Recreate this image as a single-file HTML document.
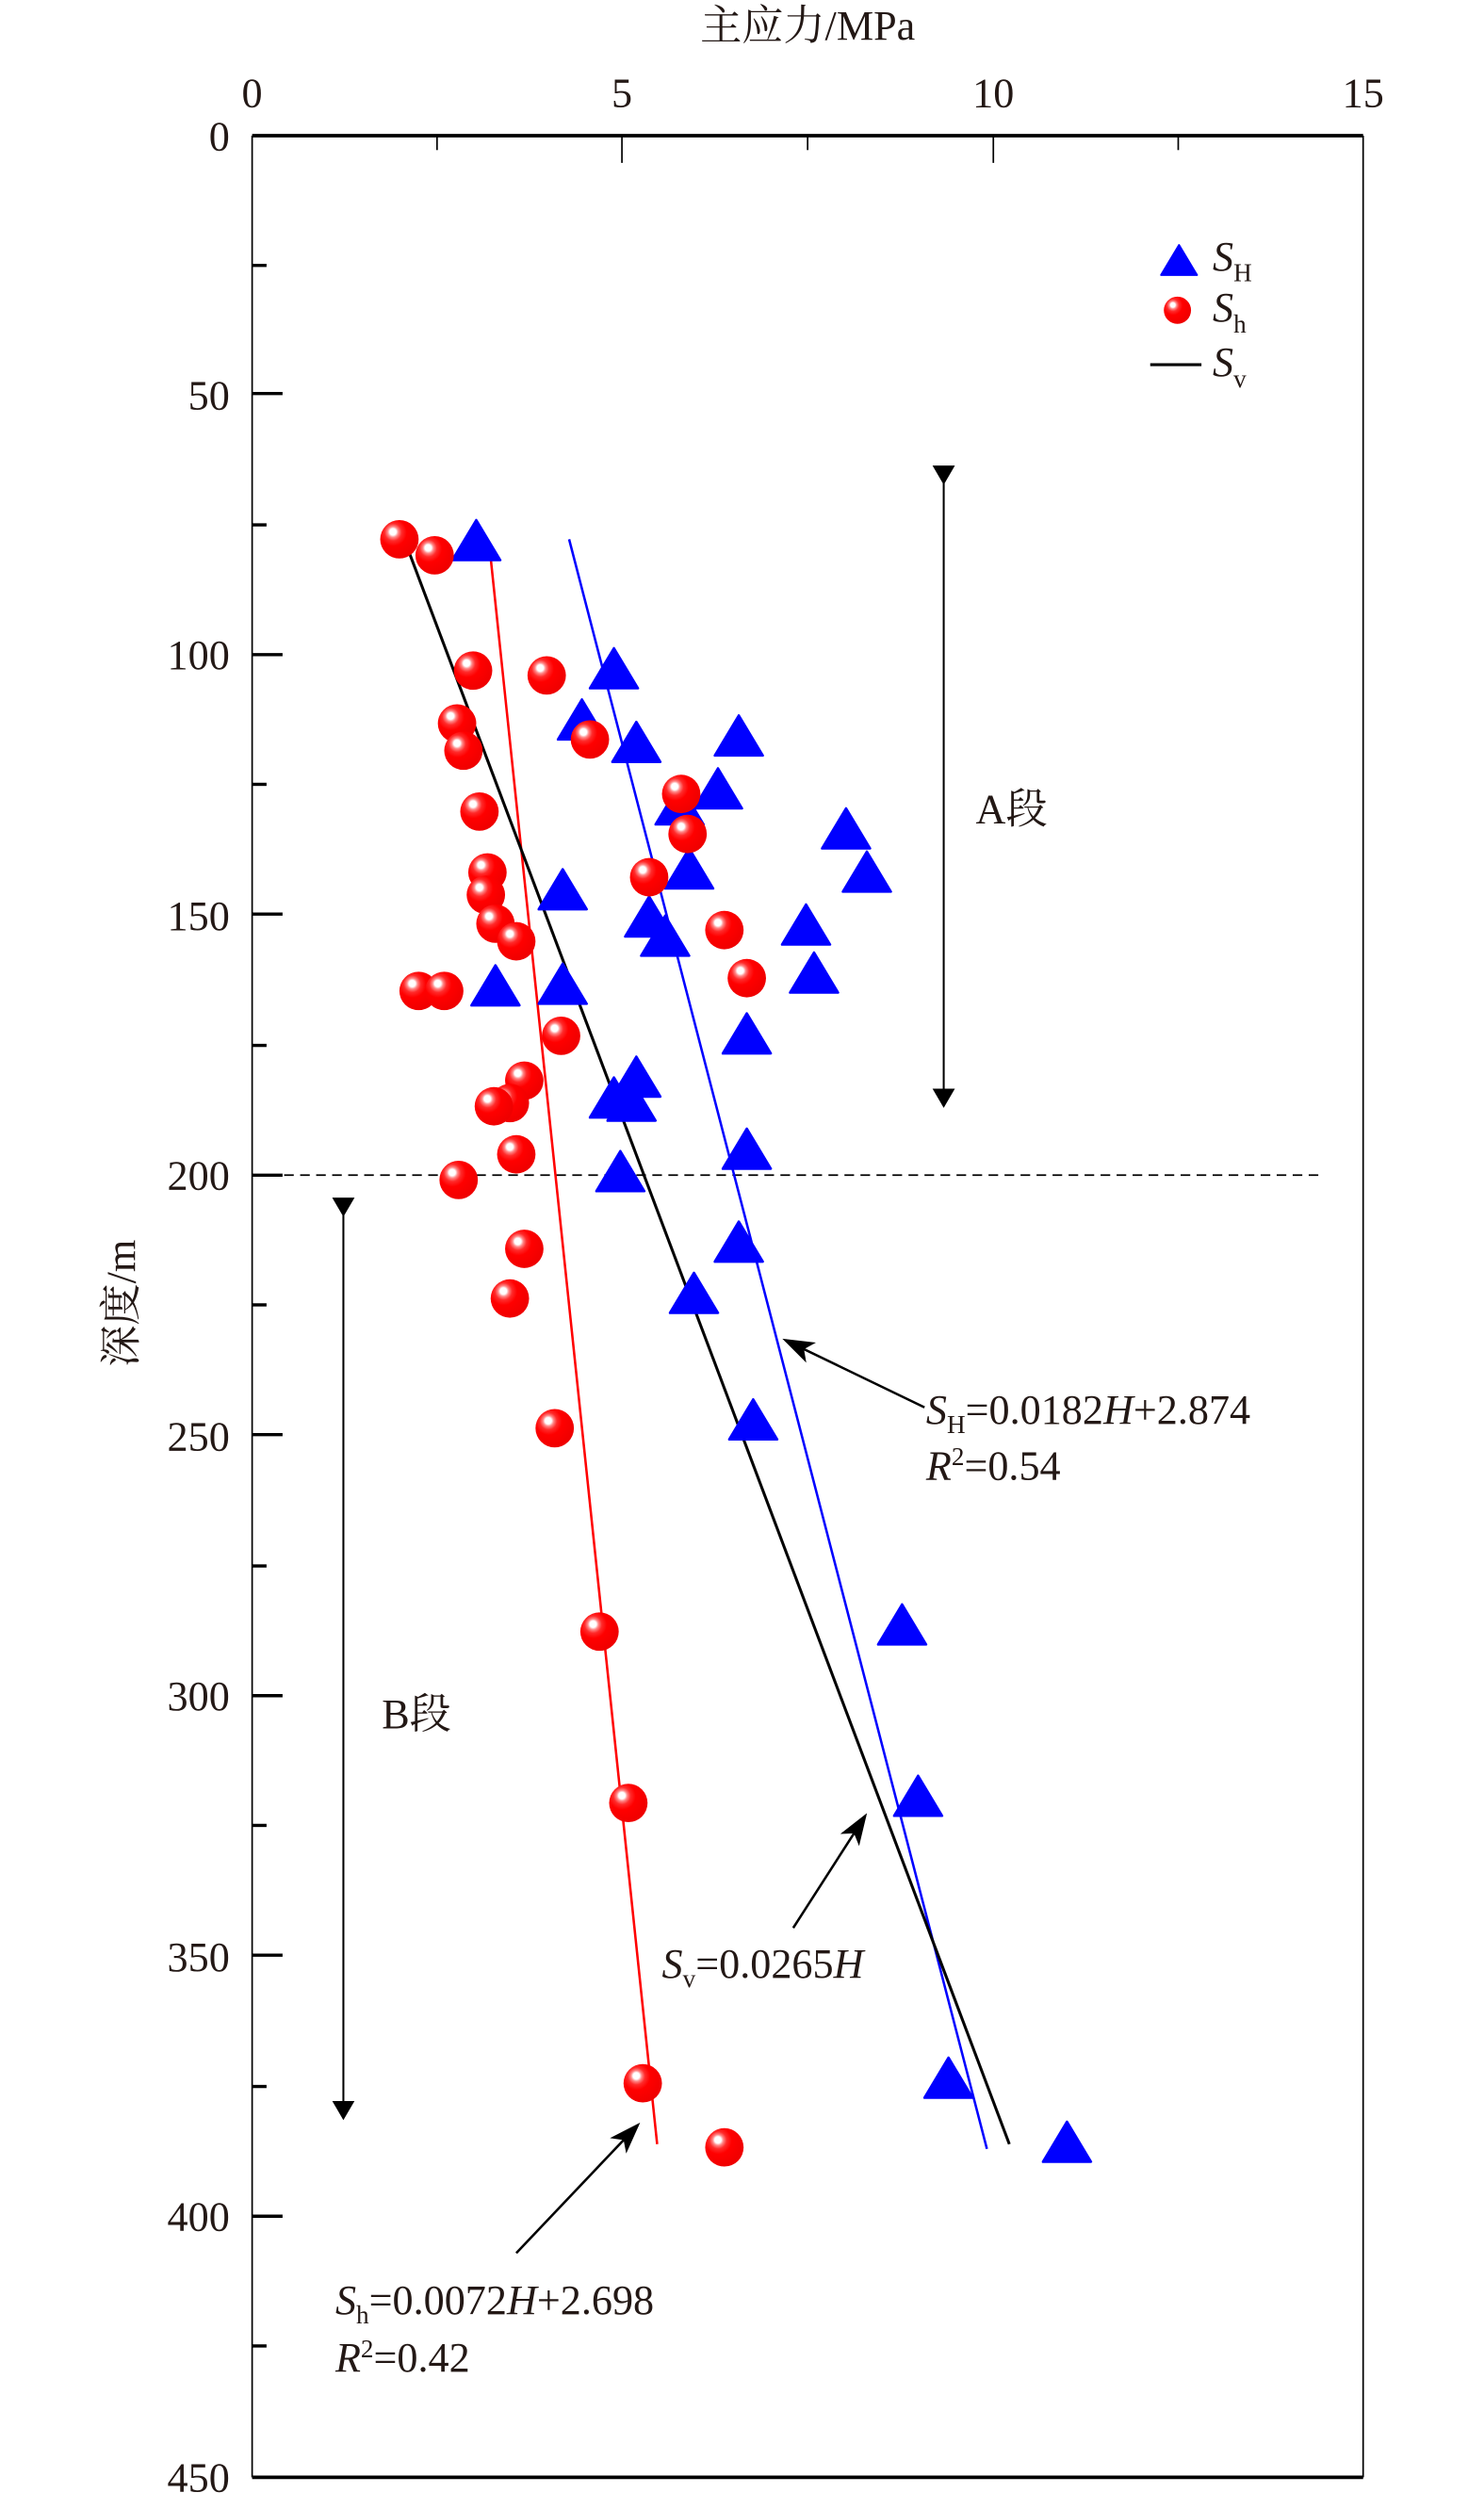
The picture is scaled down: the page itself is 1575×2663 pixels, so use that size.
<!DOCTYPE html>
<html><head><meta charset="utf-8"><style>
html,body{margin:0;padding:0;background:#fff}
svg{display:block}
text{font-family:"Liberation Serif","Noto Serif CJK SC",serif;fill:#231815}
</style></head><body>
<svg width="1575" height="2663" viewBox="-0.5 1.3 927 1566.5" preserveAspectRatio="none" xmlns="http://www.w3.org/2000/svg">
<defs>
<radialGradient id="g" cx="0.35" cy="0.35" r="0.7" fx="0.33" fy="0.3">
<stop offset="0" stop-color="#fff"/><stop offset="0.12" stop-color="#fff"/><stop offset="0.2" stop-color="#f88"/><stop offset="0.32" stop-color="#ff2a2a"/><stop offset="0.5" stop-color="#f00"/><stop offset="1" stop-color="#e00"/>
</radialGradient>
<symbol id="t" viewBox="-15 -14 30 26" overflow="visible"><polygon points="0,-14 15,11 -15,11" fill="#0000ff" stroke="#0000ff" stroke-width="1.5" stroke-linejoin="round"/></symbol>
<marker id="ah" viewBox="0 0 12 10" markerWidth="12" markerHeight="14" refX="11" refY="5" orient="auto" markerUnits="userSpaceOnUse" preserveAspectRatio="none"><polygon points="0,0 12,5 0,10" fill="#000"/></marker>
<marker id="ab" viewBox="0 0 20 14" markerWidth="20" markerHeight="14" refX="18" refY="7" orient="auto" markerUnits="userSpaceOnUse"><polygon points="0,0 20,7 0,14 5,7" fill="#000"/></marker>
</defs>
<line x1="157" y1="86" x2="851" y2="86" stroke="#000" stroke-width="2.2"/>
<line x1="157" y1="1548" x2="851" y2="1548" stroke="#000" stroke-width="2.2"/>
<line x1="157" y1="86" x2="157" y2="1548" stroke="#000" stroke-width="1"/>
<line x1="851" y1="86" x2="851" y2="1548" stroke="#000" stroke-width="1"/>
<g stroke="#000" stroke-width="1">
<line x1="388" y1="86" x2="388" y2="103"/><line x1="620" y1="86" x2="620" y2="103"/>
<line x1="272.5" y1="86" x2="272.5" y2="95"/><line x1="504" y1="86" x2="504" y2="95"/><line x1="735.5" y1="86" x2="735.5" y2="95"/>
</g>
<g stroke="#000" stroke-width="2">
<line x1="157" y1="247" x2="176" y2="247"/><line x1="157" y1="410" x2="176" y2="410"/><line x1="157" y1="572" x2="176" y2="572"/><line x1="157" y1="735" x2="176" y2="735"/><line x1="157" y1="897" x2="176" y2="897"/><line x1="157" y1="1060" x2="176" y2="1060"/><line x1="157" y1="1222" x2="176" y2="1222"/><line x1="157" y1="1385" x2="176" y2="1385"/>
<line x1="157" y1="167" x2="166" y2="167"/><line x1="157" y1="329" x2="166" y2="329"/><line x1="157" y1="491" x2="166" y2="491"/><line x1="157" y1="654" x2="166" y2="654"/><line x1="157" y1="816" x2="166" y2="816"/><line x1="157" y1="979" x2="166" y2="979"/><line x1="157" y1="1141" x2="166" y2="1141"/><line x1="157" y1="1304" x2="166" y2="1304"/><line x1="157" y1="1466" x2="166" y2="1466"/>
</g>
<g font-size="26" text-anchor="middle">
<text x="157" y="68">0</text><text x="388" y="68">5</text><text x="620" y="68">10</text><text x="851" y="68">15</text>
</g>
<g font-size="26" text-anchor="end">
<text x="143" y="95">0</text><text x="143" y="257">50</text><text x="143" y="419">100</text><text x="143" y="582">150</text><text x="143" y="744">200</text><text x="143" y="907">250</text><text x="143" y="1069">300</text><text x="143" y="1232">350</text><text x="143" y="1394">400</text><text x="143" y="1557">450</text>
</g>
<text x="504" y="26" font-size="26" text-anchor="middle">主应力/MPa</text>
<text transform="translate(84,815) rotate(-90)" font-size="26" text-anchor="middle">深度/m</text>
<line x1="157" y1="735" x2="825" y2="735" stroke="#000" stroke-width="1" stroke-dasharray="6,4"/>
<line x1="589" y1="303" x2="589" y2="692" stroke="#000" stroke-width="1.2" marker-end="url(#ah)" marker-start="url(#ah)"/>
<line x1="214" y1="760" x2="214" y2="1324" stroke="#000" stroke-width="1.2" marker-end="url(#ah)" marker-start="url(#ah)"/>
<g font-size="26"><text x="609" y="515">A段</text><text x="238" y="1080">B段</text></g>
<line x1="305" y1="340" x2="410" y2="1340" stroke="#f00" stroke-width="1.5"/>
<line x1="355" y1="338" x2="616" y2="1343" stroke="#0000ff" stroke-width="1.5"/>
<line x1="252" y1="338" x2="630" y2="1340" stroke="#000" stroke-width="1.8"/>
<g>
<use href="#t" x="282" y="326" width="30" height="26"/>
<use href="#t" x="368" y="406" width="30" height="26"/>
<use href="#t" x="348" y="438" width="30" height="26"/>
<use href="#t" x="382" y="452" width="30" height="26"/>
<use href="#t" x="446" y="448" width="30" height="26"/>
<use href="#t" x="433" y="481" width="30" height="26"/>
<use href="#t" x="409" y="491" width="30" height="26"/>
<use href="#t" x="513" y="506" width="30" height="26"/>
<use href="#t" x="526" y="533" width="30" height="26"/>
<use href="#t" x="415" y="531" width="30" height="26"/>
<use href="#t" x="336" y="544" width="30" height="26"/>
<use href="#t" x="390" y="561" width="30" height="26"/>
<use href="#t" x="488" y="566" width="30" height="26"/>
<use href="#t" x="400" y="573" width="30" height="26"/>
<use href="#t" x="493" y="596" width="30" height="26"/>
<use href="#t" x="294" y="604" width="30" height="26"/>
<use href="#t" x="336" y="603" width="30" height="26"/>
<use href="#t" x="451" y="634" width="30" height="26"/>
<use href="#t" x="382" y="661" width="30" height="26"/>
<use href="#t" x="368" y="674" width="30" height="26"/>
<use href="#t" x="379" y="676" width="30" height="26"/>
<use href="#t" x="451" y="706" width="30" height="26"/>
<use href="#t" x="372" y="720" width="30" height="26"/>
<use href="#t" x="446" y="764" width="30" height="26"/>
<use href="#t" x="418" y="796" width="30" height="26"/>
<use href="#t" x="455" y="875" width="30" height="26"/>
<use href="#t" x="548" y="1003" width="30" height="26"/>
<use href="#t" x="558" y="1110" width="30" height="26"/>
<use href="#t" x="577" y="1286" width="30" height="26"/>
<use href="#t" x="651" y="1326" width="30" height="26"/>
</g>
<g fill="url(#g)">
<circle cx="249" cy="338" r="12"/><circle cx="271" cy="348" r="12"/><circle cx="295" cy="420" r="12"/><circle cx="341" cy="423" r="12"/>
<circle cx="285" cy="453" r="12"/><circle cx="289" cy="470" r="12"/><circle cx="368" cy="463" r="12"/><circle cx="425" cy="497" r="12"/>
<circle cx="299" cy="508" r="12"/><circle cx="429" cy="522" r="12"/><circle cx="304" cy="546" r="12"/><circle cx="405" cy="549" r="12"/>
<circle cx="303" cy="560" r="12"/><circle cx="452" cy="582" r="12"/><circle cx="309" cy="578" r="12"/><circle cx="322" cy="589" r="12"/>
<circle cx="466" cy="612" r="12"/><circle cx="261" cy="620" r="12"/><circle cx="277" cy="620" r="12"/><circle cx="350" cy="648" r="12"/>
<circle cx="327" cy="676" r="12"/><circle cx="318" cy="690" r="12"/><circle cx="308" cy="692" r="12"/><circle cx="322" cy="722" r="12"/>
<circle cx="286" cy="738" r="12"/><circle cx="327" cy="781" r="12"/><circle cx="318" cy="812" r="12"/><circle cx="346" cy="893" r="12"/>
<circle cx="374" cy="1020" r="12"/><circle cx="392" cy="1127" r="12"/><circle cx="401" cy="1302" r="12"/><circle cx="452" cy="1342" r="12"/>
</g>
<use href="#t" x="721" y="151" width="30" height="26" transform="translate(736,164) scale(0.75) translate(-736,-164)"/>
<circle cx="735" cy="195" r="8.5" fill="url(#g)"/>
<line x1="718" y1="229" x2="750" y2="229" stroke="#000" stroke-width="1.8"/>
<g font-size="26">
<text x="757" y="170" font-style="italic">S<tspan font-size="16" font-style="normal" dy="7">H</tspan></text>
<text x="757" y="202" font-style="italic">S<tspan font-size="16" font-style="normal" dy="7">h</tspan></text>
<text x="757" y="236" font-style="italic">S<tspan font-size="16" font-style="normal" dy="7">v</tspan></text>
</g>
<line x1="577" y1="880" x2="490" y2="838" stroke="#000" stroke-width="1.5" marker-end="url(#ab)"/>
<line x1="495" y1="1205" x2="540" y2="1135" stroke="#000" stroke-width="1.5" marker-end="url(#ab)"/>
<line x1="322" y1="1408" x2="398" y2="1328" stroke="#000" stroke-width="1.5" marker-end="url(#ab)"/>
<g font-size="26">
<text x="578" y="890"><tspan font-style="italic">S</tspan><tspan font-size="16" dy="6">H</tspan><tspan dy="-6">=0.0182</tspan><tspan font-style="italic">H</tspan>+2.874</text>
<text x="578" y="925"><tspan font-style="italic">R</tspan><tspan font-size="16" dy="-9">2</tspan><tspan dy="9">=0.54</tspan></text>
<text x="413" y="1236"><tspan font-style="italic">S</tspan><tspan font-size="16" dy="6">v</tspan><tspan dy="-6">=0.0265</tspan><tspan font-style="italic">H</tspan></text>
<text x="209" y="1446"><tspan font-style="italic">S</tspan><tspan font-size="16" dy="6">h</tspan><tspan dy="-6">=0.0072</tspan><tspan font-style="italic">H</tspan>+2.698</text>
<text x="209" y="1482"><tspan font-style="italic">R</tspan><tspan font-size="16" dy="-9">2</tspan><tspan dy="9">=0.42</tspan></text>
</g>
</svg>
</body></html>
